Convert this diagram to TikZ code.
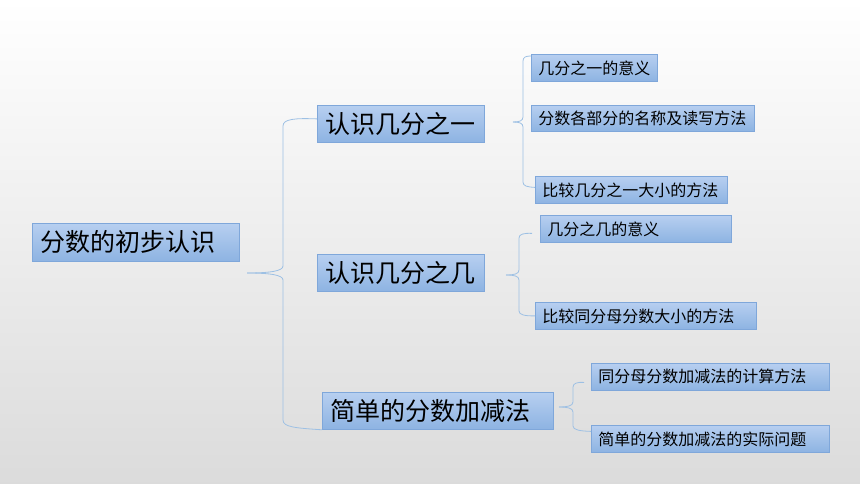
\documentclass[tikz,border=0pt]{standalone}
\usepackage{fontspec}
\usepackage{tikz}
\newfontfamily\cjk{Noto Sans CJK SC}
\definecolor{boxtop}{HTML}{B7CFF0}
\definecolor{boxbottom}{HTML}{8DB3E2}
\definecolor{boxline}{HTML}{7FA7DA}
\definecolor{bracecol}{HTML}{9DC0E4}
\begin{document}
\begin{tikzpicture}
      [ x = 1pt, y = -1pt
      , box/.style =
        { draw = boxline, line width = .8pt, top color = boxtop, bottom color = boxbottom
        , anchor = north west, align = left, inner ysep = 0pt, text = black }
      , topic/.style =
        { box, inner xsep = 8pt, font = \cjk\fontsize{25}{28}\selectfont }
      , item/.style =
        { box, inner xsep = 7pt, font = \cjk\fontsize{16}{19}\selectfont }
      , brace/.style =
        { draw = bracecol, line width = .8pt }
      ]
      \shade [top color = white, bottom color = black!14] (0, 0) rectangle (860, 484);
      \useasboundingbox (0, 0) rectangle (860, 484);
      \node [topic, text width = 191pt, minimum height = 38pt] (root) at (32, 223) {分数的初步认识};
      \node [topic, text width = 151pt, minimum height = 37pt] (a1) at (317, 105) {认识几分之一};
      \node [topic, text width = 151pt, minimum height = 37pt] (a2) at (317, 254) {认识几分之几};
      \node [topic, text width = 215pt, minimum height = 37pt] (a3) at (322, 392) {简单的分数加减法};
      \node [item, text width = 112pt, minimum height = 27pt] (b1) at (531, 54) {几分之一的意义};
      \node [item, text width = 209pt, minimum height = 26pt] (b2) at (531, 105) {分数各部分的名称及读写方法};
      \node [item, text width = 178pt, minimum height = 27pt] (b3) at (535, 176) {比较几分之一大小的方法};
      \node [item, text width = 177pt, minimum height = 27pt] (c1) at (540, 215) {几分之几的意义};
      \node [item, text width = 207pt, minimum height = 27pt] (c2) at (535, 302) {比较同分母分数大小的方法};
      \node [item, text width = 224pt, minimum height = 27pt] (d1) at (591, 363) {同分母分数加减法的计算方法};
      \node [item, text width = 224pt, minimum height = 27pt] (d2) at (591, 425) {简单的分数加减法的实际问题};
      \coordinate (t0) at (247, 273);
      \coordinate (t1) at (513, 122);
      \coordinate (t2) at (506, 275);
      \coordinate (t3) at (559, 407);
      % braces
      \draw [brace] (t0) .. controls (270, 273) and (283, 271) .. (283, 266) -- (283, 126)
        .. controls (283, 119) and (295, 118) .. ([yshift=5pt]a1.west);
      \draw [brace] (t0) .. controls (270, 273) and (283, 275) .. (283, 280) -- (283, 420)
        .. controls (283, 427) and (295, 428) .. (a3.south west);
      \draw [brace] (t1) .. controls (519, 122) and (523, 121) .. (523, 117) -- (523, 61)
        .. controls (523, 57) and (526, 56) .. ([yshift=-2pt]b1.north west);
      \draw [brace] (t1) .. controls (519, 122) and (523, 123) .. (523, 127) -- (523, 182)
        .. controls (523, 186) and (527, 187) .. ([yshift=2.5pt]b3.west);
      \draw [brace] (t2) .. controls (514, 275) and (519, 274) .. (519, 270) -- (519, 238)
        .. controls (519, 234) and (524, 233) .. ([xshift=-8pt,yshift=-4.5pt]c1.west);
      \draw [brace] (t2) .. controls (514, 275) and (519, 276) .. (519, 280) -- (519, 311)
        .. controls (519, 315) and (525, 316) .. (c2.west);
      \draw [brace] (t3) .. controls (567, 407) and (573, 406) .. (573, 402) -- (573, 387)
        .. controls (573, 383) and (578, 382) .. ([xshift=-7pt,yshift=-5.5pt]d1.west);
      \draw [brace] (t3) .. controls (567, 407) and (573, 408) .. (573, 412) -- (573, 426)
        .. controls (573, 430) and (580, 431) .. ([yshift=7.5pt]d2.west);
    \end{tikzpicture}
\end{document}
